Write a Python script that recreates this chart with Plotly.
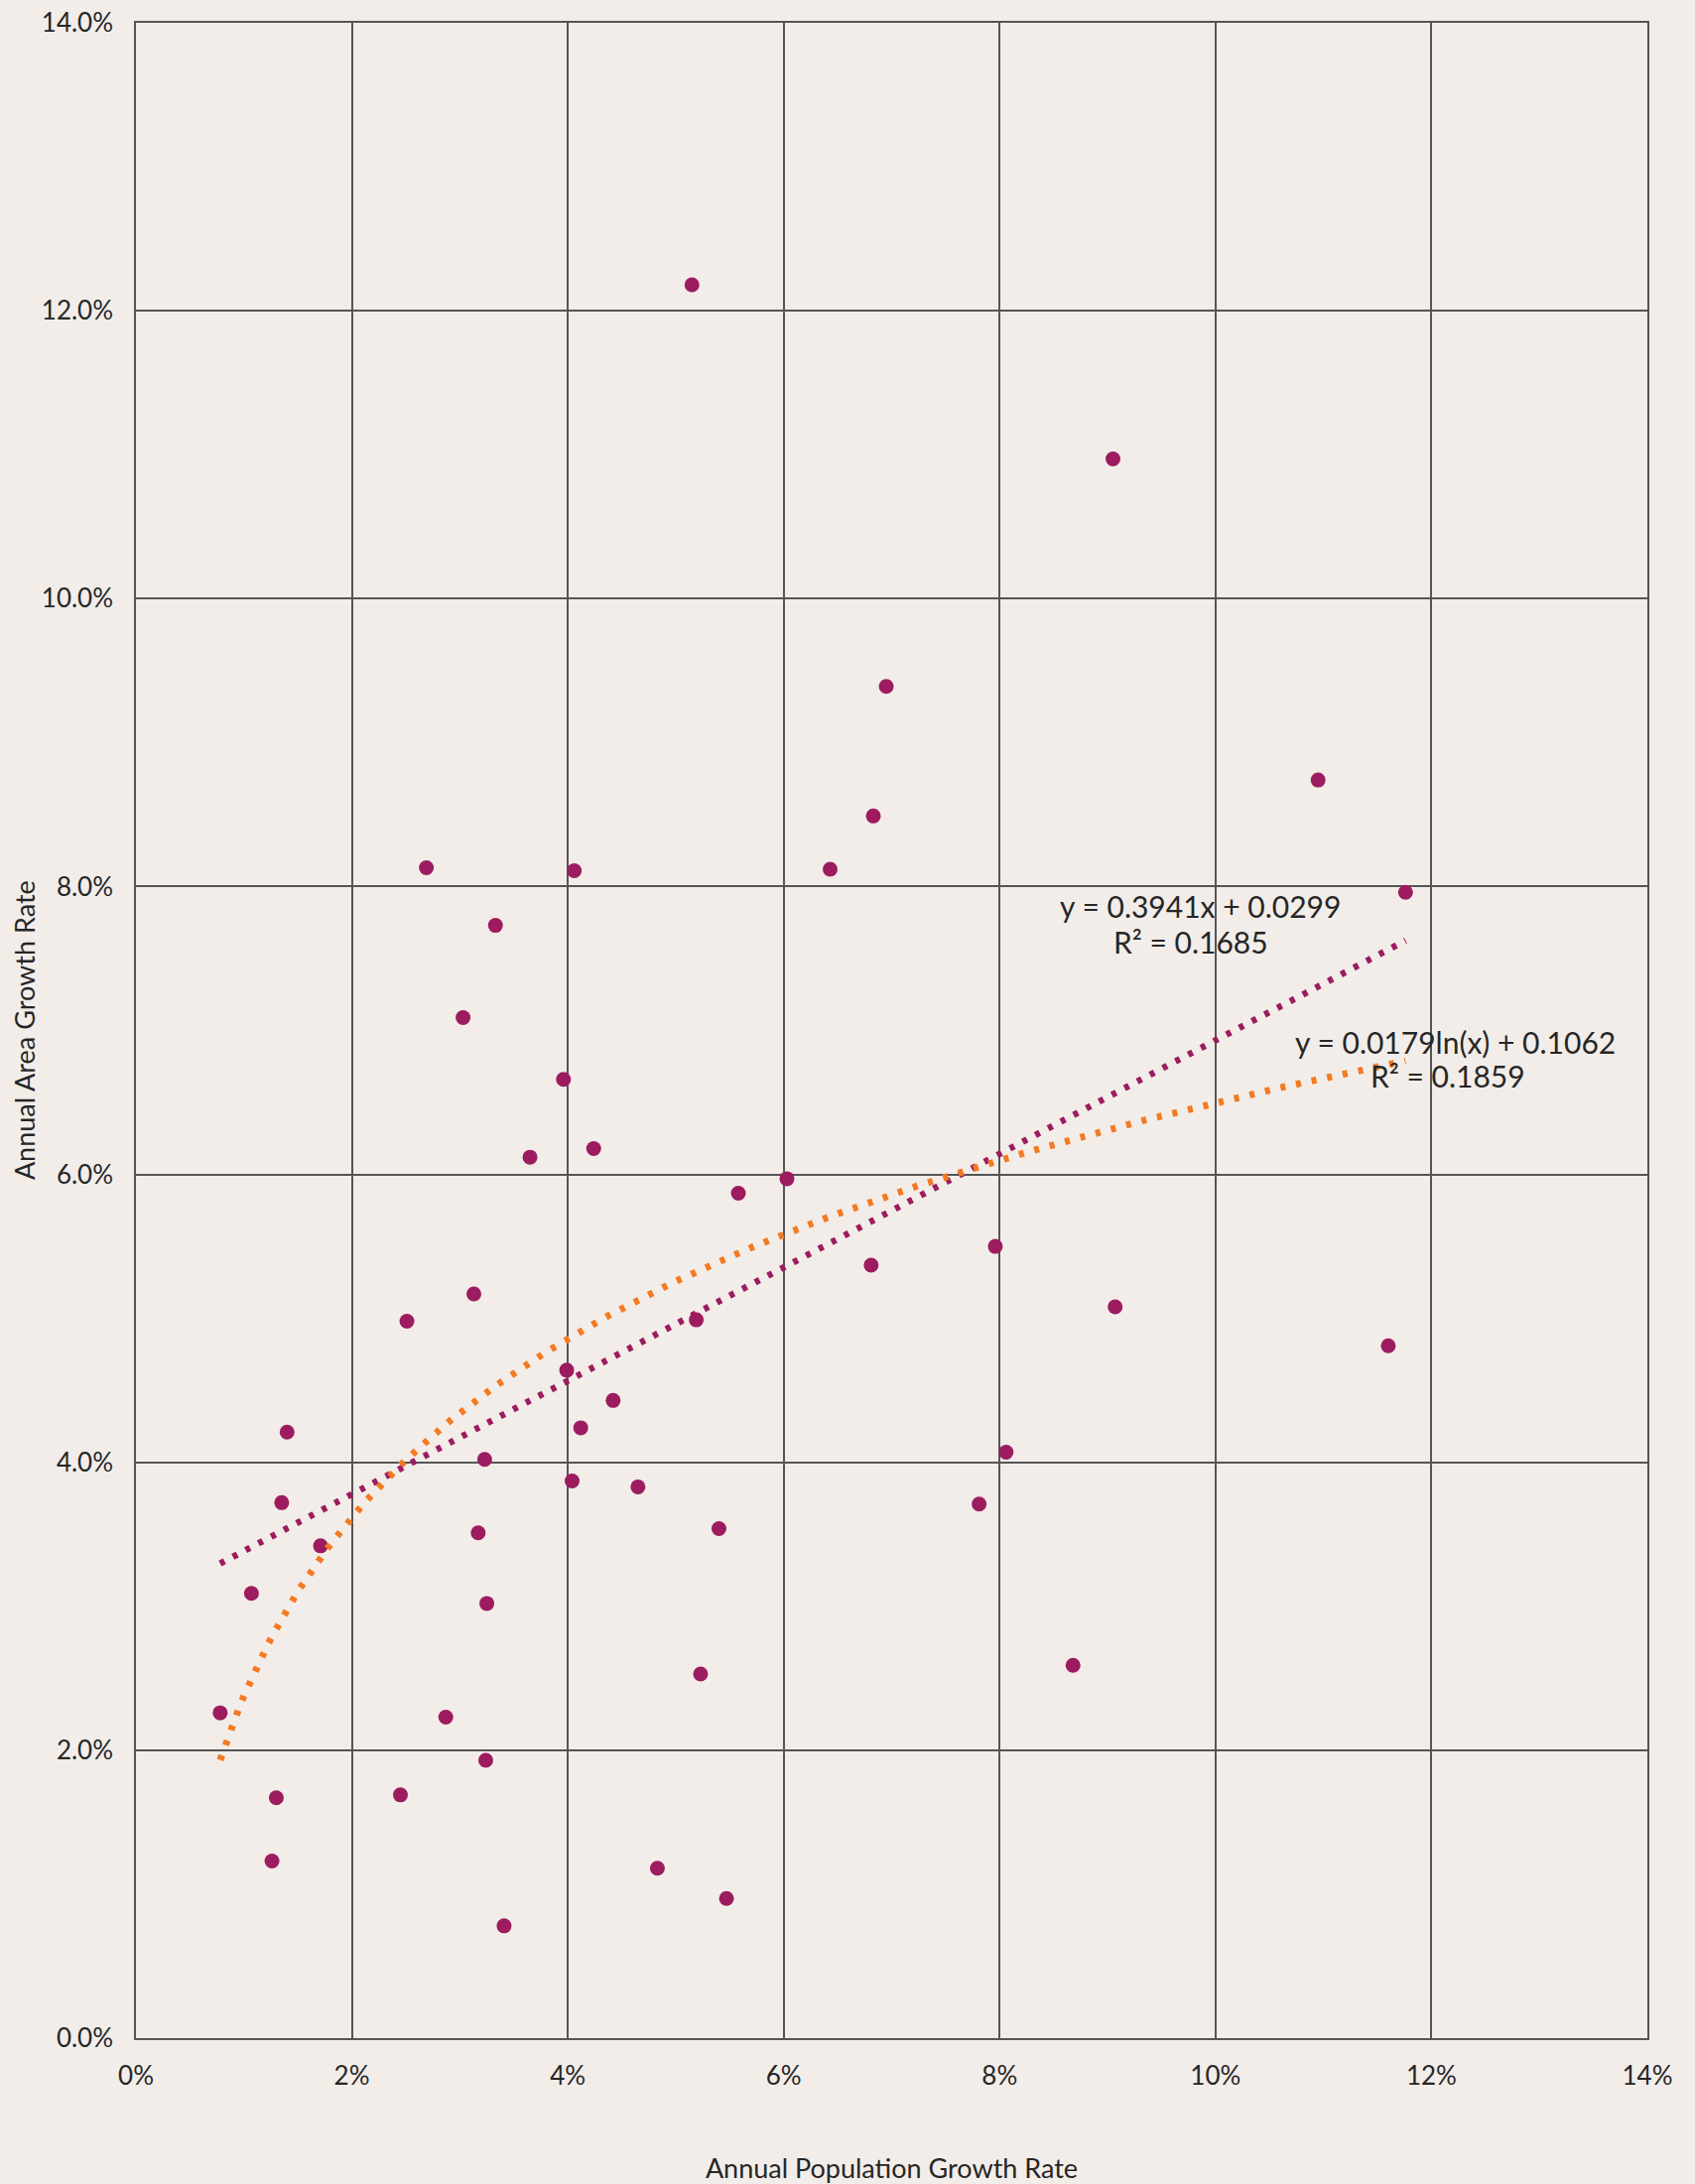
import numpy as np
import plotly.graph_objects as go

# Annual population growth rate (x) and annual area growth rate (y), as fractions
pop_growth = [0.0078, 0.0107, 0.0126, 0.0130, 0.0135, 0.0140, 0.0171, 0.0245, 0.0251,
              0.0269, 0.0287, 0.0303, 0.0313, 0.0317, 0.0323, 0.0325, 0.0324, 0.0333,
              0.0341, 0.0365, 0.0396, 0.0399, 0.0404, 0.0406, 0.0412, 0.0424, 0.0442,
              0.0465, 0.0483, 0.0515, 0.0519, 0.0523, 0.0540, 0.0547, 0.0558, 0.0603,
              0.0643, 0.0681, 0.0683, 0.0695, 0.0781, 0.0796, 0.0806, 0.0868, 0.0905,
              0.0907, 0.1095, 0.1160, 0.1176]
area_growth = [0.0226, 0.0309, 0.0123, 0.0167, 0.0372, 0.0421, 0.0342, 0.0169, 0.0498,
               0.0813, 0.0223, 0.0709, 0.0517, 0.0351, 0.0402, 0.0302, 0.0193, 0.0773,
               0.0078, 0.0612, 0.0666, 0.0464, 0.0387, 0.0811, 0.0424, 0.0618, 0.0443,
               0.0383, 0.0118, 0.1218, 0.0499, 0.0253, 0.0354, 0.0097, 0.0587, 0.0597,
               0.0812, 0.0537, 0.0849, 0.0939, 0.0371, 0.0550, 0.0407, 0.0259, 0.1097,
               0.0508, 0.0874, 0.0481, 0.0796]

# Trendline coefficients as printed on the chart
lin_slope, lin_intercept, lin_r2 = 0.3941, 0.0299, 0.1685
log_coef, log_intercept, log_r2 = 0.0179, 0.1062, 0.1859

x_ticks = [0, 0.02, 0.04, 0.06, 0.08, 0.10, 0.12, 0.14]
y_ticks = [0, 0.02, 0.04, 0.06, 0.08, 0.10, 0.12, 0.14]

PURPLE = "#9C1C5F"
ORANGE = "#F47A22"
BG = "#F2EDE9"
GRID = "#555555"
TXT = "#262626"
FONT = "Lato, 'Open Sans', sans-serif"

xs = np.array(pop_growth)
xt = np.linspace(xs.min(), xs.max(), 300)
y_lin = lin_slope * xt + lin_intercept
y_log = log_coef * np.log(xt) + log_intercept

fig = go.Figure()
fig.add_trace(go.Scatter(x=pop_growth, y=area_growth, mode="markers",
                         marker=dict(color=PURPLE, size=15), showlegend=False,
                         name="Cities"))
fig.add_trace(go.Scatter(x=xt, y=y_lin, mode="lines",
                         line=dict(color=PURPLE, width=6.5, dash="5px,9.5px"),
                         showlegend=False, name="Linear trend"))
fig.add_trace(go.Scatter(x=xt, y=y_log, mode="lines",
                         line=dict(color=ORANGE, width=7, dash="5px,11px"),
                         showlegend=False, name="Log trend"))

ann_font = dict(family=FONT, size=30, color=TXT)
anns = [
    (0.09857, 0.07863, f"y = {lin_slope:.4f}x + {lin_intercept:.4f}"),
    (0.09775, 0.07615, f"R² = {lin_r2:.4f}"),
    (0.1222, 0.06919, f"y = {log_coef:.4f}ln(x) + {log_intercept:.4f}"),
    (0.12155, 0.06688, f"R² = {log_r2:.4f}"),
]
for ax_, ay_, t in anns:
    fig.add_annotation(x=ax_, y=ay_, text=t, showarrow=False, font=ann_font,
                       xanchor="center", yanchor="middle")

# y-axis title placed as a rotated annotation for exact positioning
fig.add_annotation(x=-0.0738, y=0.5, xref="paper", yref="paper",
                   text="Annual Area Growth Rate", textangle=-90, showarrow=False,
                   font=dict(family=FONT, size=27, color=TXT),
                   xanchor="center", yanchor="middle")

axis_common = dict(showgrid=True, gridcolor=GRID, gridwidth=1.5, showline=True,
                   linecolor=GRID, linewidth=1.5, mirror=True, zeroline=False,
                   ticks="", tickfont=dict(family=FONT, size=26, color=TXT))

fig.update_xaxes(range=[0, 0.14], tickvals=x_ticks, tickformat=".0%",
                 ticklabelstandoff=14,
                 title=dict(text="Annual Population Growth Rate",
                            font=dict(family=FONT, size=27, color=TXT), standoff=78),
                 **axis_common)
fig.update_yaxes(range=[0, 0.14], tickvals=y_ticks, tickformat=".1%",
                 ticklabelstandoff=16, **axis_common)

fig.update_layout(width=1708, height=2201, paper_bgcolor=BG, plot_bgcolor=BG,
                  margin=dict(l=136.5, r=47.5, t=22.7, b=147.3, autoexpand=False),
                  font=dict(family=FONT, color=TXT))

fig.write_html("out.html", config={"displayModeBar": False},
               post_script="document.body.style.margin='0';"
                           "document.body.style.background='#F2EDE9';"
                           "document.body.style.overflow='hidden';")
